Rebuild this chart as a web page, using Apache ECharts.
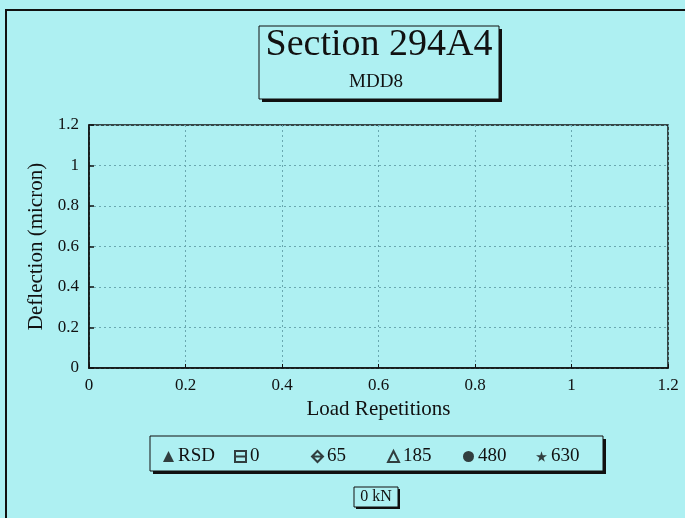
<!DOCTYPE html>
<html><head><meta charset="utf-8">
<script src="https://cdn.jsdelivr.net/npm/echarts@6/dist/echarts.min.js"></script>
<style>html,body{margin:0;padding:0;background:#aef0f2;}#c{width:685px;height:518px;}</style>
</head><body><div id="c"></div>
<script>
const titleText = 'Section 294A4';
const subText = 'MDD8';
const xName = 'Load Repetitions';
const yName = 'Deflection (micron)';
const loadLabel = '0 kN';
const seriesNames = ['RSD', '0', '65', '185', '480', '630'];
// No measured points are plotted in the reference (empty chart)
const rsdValues = [];
const v0 = [];
const v65 = [];
const v185 = [];
const v480 = [];
const v630 = [];
const seriesValues = [rsdValues, v0, v65, v185, v480, v630];
const axisMin = 0, axisMax = 1.2, axisStep = 0.2;

const FONT = '"Liberation Serif", "DejaVu Serif", serif';
const BG = '#aef0f2';
const symbols = [
  'triangle',
  'path://M0,0H10V10H0Z M0,5H10',
  'path://M5,0L10,5L5,10L0,5Z M0,5H10',
  'path://M5,0L10,10H0Z',
  'circle',
  'path://M50,0L61,35H98L68,57L79,91L50,70L21,91L32,57L2,35H39Z'
];
const filled = [true, false, false, false, true, true];
const legendLeft = [158, 229, 306, 382, 458, 531];

const series = seriesNames.map((n, i) => ({
  name: n, type: 'scatter', data: seriesValues[i],
  symbol: symbols[i], symbolSize: 10,
  itemStyle: filled[i] ? {color: '#111'} : {color: 'rgba(0,0,0,0)', borderColor: '#111', borderWidth: 1}
}));

const legends = seriesNames.map((n, i) => ({
  data: [n], left: legendLeft[i], top: 442,
  itemWidth: 11, itemHeight: 11, itemGap: 5,
  textStyle: {fontFamily: FONT, fontSize: 19, color: '#111', padding: [0,0,0,-1]},
  selectedMode: false
}));

function shadowBox(x, y, w, h, sh) {
  return [
    {type: 'rect', shape: {x: x + sh, y: y + sh, width: w, height: h}, style: {fill: '#111'}, z: 1},
    {type: 'rect', shape: {x: x, y: y, width: w, height: h}, style: {fill: BG, stroke: '#111', lineWidth: 1}, z: 2}
  ];
}

const chart = echarts.init(document.getElementById('c'));
chart.setOption({
  backgroundColor: BG,
  animation: false,
  grid: {left: 89, top: 125, right: 17, bottom: 150, show: true, borderColor: '#111', borderWidth: 1.5, backgroundColor: 'transparent'},
  xAxis: {
    type: 'value', min: axisMin, max: axisMax, interval: axisStep,
    name: xName, nameLocation: 'middle', nameGap: 31,
    nameTextStyle: {fontFamily: FONT, fontSize: 21, color: '#111'},
    axisLine: {lineStyle: {color: '#111', width: 1.5}},
    axisTick: {inside: true, length: 4, lineStyle: {color: '#111'}},
    axisLabel: {fontFamily: FONT, fontSize: 17, color: '#111', margin: 9},
    splitLine: {show: true, lineStyle: {color: '#6aa8b0', type: [2, 3], width: 1}}
  },
  yAxis: {
    type: 'value', min: axisMin, max: axisMax, interval: axisStep,
    name: yName, nameLocation: 'middle', nameGap: 40, nameRotate: 90,
    nameTextStyle: {fontFamily: FONT, fontSize: 21, color: '#111'},
    axisLine: {lineStyle: {color: '#111', width: 1.5}},
    axisTick: {inside: true, length: 5, lineStyle: {color: '#111', width: 1.5}},
    axisLabel: {fontFamily: FONT, fontSize: 17, color: '#111', margin: 10},
    splitLine: {show: true, lineStyle: {color: '#6aa8b0', type: [2, 3], width: 1}}
  },
  legend: legends,
  series: series,
  graphic: [
    {type: 'polyline', shape: {points: [[6, 518], [6, 10], [685, 10]]}, style: {stroke: '#111', lineWidth: 2, fill: null}, z: 3},
    ...shadowBox(259, 26, 240, 73, 3),
    {type: 'text', style: {x: 379, y: 26, text: titleText, font: '38px ' + FONT, fill: '#111', textAlign: 'center'}, z: 5},
    {type: 'text', style: {x: 376, y: 73, text: subText, font: '19px ' + FONT, fill: '#111', textAlign: 'center'}, z: 5},
    ...shadowBox(150, 436, 453, 35, 3),
    ...shadowBox(354, 487, 44, 20, 2),
    {type: 'text', style: {x: 376, y: 489, text: loadLabel, font: '16px ' + FONT, fill: '#111', textAlign: 'center'}, z: 5}
  ]
});
</script></body></html>
